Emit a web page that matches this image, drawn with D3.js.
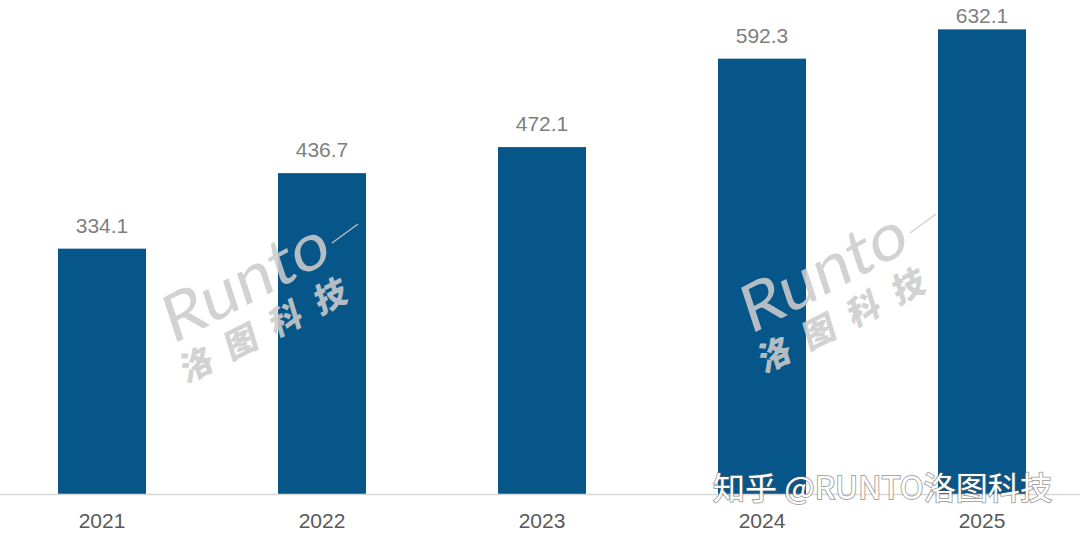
<!DOCTYPE html>
<html>
<head>
<meta charset="utf-8">
<script src="https://cdn.jsdelivr.net/npm/d3@7"></script>
<style>
  html, body { margin: 0; padding: 0; background: #ffffff; }
  svg { display: block; }
</style>
</head>
<body>
<svg id="chart" width="1080" height="534"></svg>
<script>
const categories = ["2021", "2022", "2023", "2024", "2025"];
const values = [334.1, 436.7, 472.1, 592.3, 632.1];
const valueLabels = ["334.1", "436.7", "472.1", "592.3", "632.1"];
const watermarkLatin = "Runto";
const watermarkCJK = ["洛", "图", "科", "技"];
const footerText = "知乎 @RUNTO洛图科技";

const W = 1080, H = 534;
const svg = d3.select("#chart");

const x = d3.scaleBand()
  .domain(categories)
  .range([-8, 1092])
  .paddingInner(0.6)
  .paddingOuter(0.3);

const y = d3.scaleLinear()
  .domain([0, 672])
  .range([494.5, 0]);

// bars
svg.append("g").selectAll("rect")
  .data(values)
  .join("rect")
  .attr("x", (d, i) => x(categories[i]))
  .attr("y", d => y(d))
  .attr("width", x.bandwidth())
  .attr("height", d => y(0) - y(d))
  .attr("fill", "#06568A");

// axis
const axis = svg.append("g")
  .attr("transform", `translate(0,${y(0)})`)
  .call(d3.axisBottom(x).tickSize(0).tickPadding(0));
axis.select(".domain").remove();
axis.append("line")
  .attr("x1", 0).attr("x2", W)
  .attr("y1", 0).attr("y2", 0)
  .attr("stroke", "#d9d9d9").attr("stroke-width", 1.5);
axis.selectAll(".tick text")
  .attr("dy", null)
  .attr("y", 33.5)
  .attr("font-family", "'Liberation Sans', Arial, sans-serif")
  .attr("font-size", 21)
  .attr("fill", "#595959");

// value labels
svg.append("g").selectAll("text")
  .data(values)
  .join("text")
  .attr("x", (d, i) => x(categories[i]) + x.bandwidth() / 2)
  .attr("y", d => Math.max(y(d) - 16, 23))
  .attr("text-anchor", "middle")
  .attr("font-family", "'Liberation Sans', Arial, sans-serif")
  .attr("font-size", 21)
  .attr("fill", "#7f7f7f")
  .text((d, i) => valueLabels[i]);

// watermarks
function watermark(ox, oy) {
  const g = svg.append("g")
    .attr("transform", `translate(${ox},${oy})`)
    .attr("fill", "#cccccc")
    .attr("opacity", 0.88);
  g.append("text")
    .attr("transform", "translate(172,345) rotate(-28) skewX(-10)")
    .attr("font-family", "Lato, 'Open Sans', sans-serif")
    .attr("font-weight", 400)
    .attr("font-size", 64)
    .attr("textLength", 182)
    .attr("lengthAdjust", "spacingAndGlyphs")
    .text(watermarkLatin);
  g.append("line")
    .attr("x1", 332).attr("y1", 243)
    .attr("x2", 358).attr("y2", 224)
    .attr("stroke", "#cccccc").attr("stroke-width", 1.5);
  const cg = g.append("g")
    .attr("transform", "translate(195,365) rotate(-27)");
  cg.selectAll("text")
    .data(watermarkCJK)
    .join("text")
    .attr("transform", (d, i) => `translate(${i * 50},12) skewX(-10)`)
    .attr("text-anchor", "middle")
    .attr("font-family", "'Noto Sans CJK SC', sans-serif")
    .attr("font-weight", 900)
    .attr("font-size", 33)
    .text(d => d);
}
watermark(0, 0);
watermark(578, -10);

// footer (zhihu watermark)
svg.append("text")
  .attr("x", 713)
  .attr("y", 499)
  .attr("font-family", "'Noto Sans CJK SC', sans-serif")
  .attr("font-size", 31)
  .attr("textLength", 339)
  .attr("lengthAdjust", "spacingAndGlyphs")
  .attr("fill", "#ffffff")
  .attr("stroke", "rgba(90,90,90,0.55)")
  .attr("stroke-width", 2)
  .attr("paint-order", "stroke")
  .text(footerText);
</script>
</body>
</html>
